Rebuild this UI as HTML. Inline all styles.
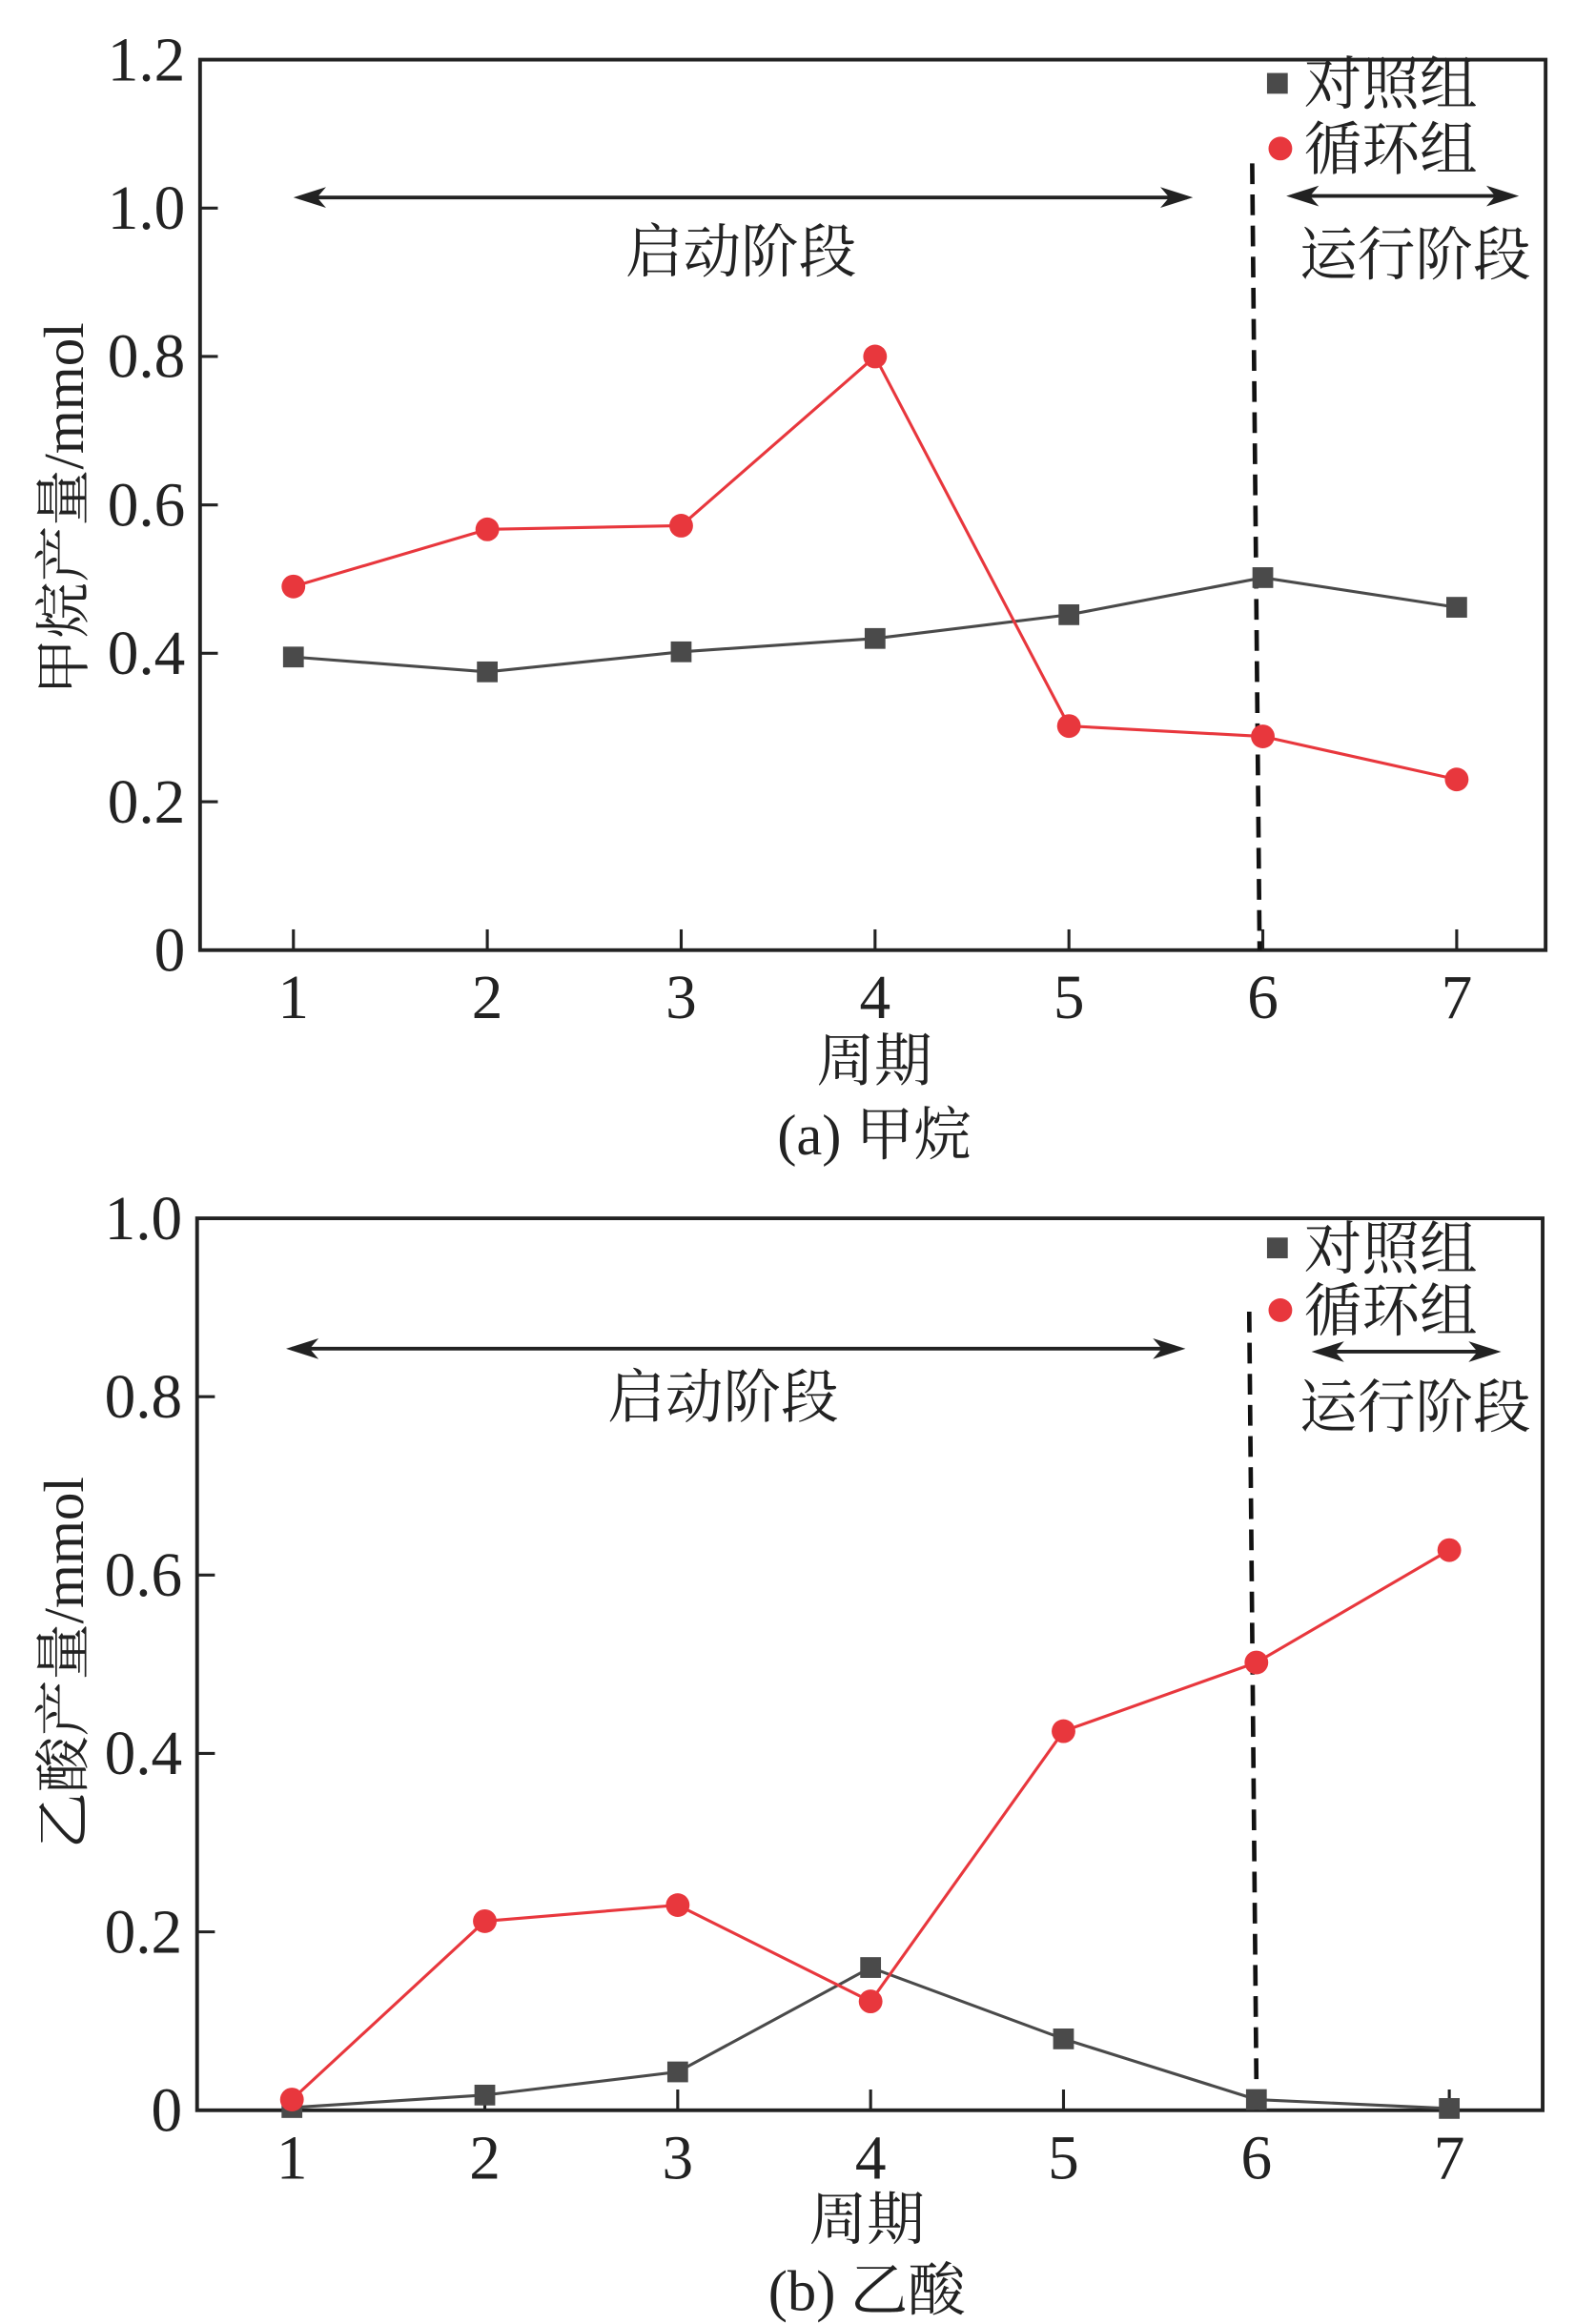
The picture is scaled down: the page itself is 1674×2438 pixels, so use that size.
<!DOCTYPE html>
<html><head><meta charset="utf-8"><style>
html,body{margin:0;padding:0;background:#fff}
svg{display:block}
text{font-family:"Liberation Serif","Noto Serif CJK SC","Noto Sans CJK SC",serif;fill:#222}
</style></head><body>
<svg id="svg" width="1674" height="2438" viewBox="0 0 1077 1568" xmlns="http://www.w3.org/2000/svg"></svg>
<script>
const categories = [1,2,3,4,5,6,7];
const methaneControl = [0.395,0.375,0.402,0.42,0.452,0.502,0.462];
const methaneCycle = [0.49,0.567,0.572,0.80,0.302,0.288,0.23];
const acidControl = [0.003,0.017,0.043,0.16,0.08,0.012,0.002];
const acidCycle = [0.012,0.212,0.23,0.122,0.425,0.502,0.628];
const methaneTicks = ["0","0.2","0.4","0.6","0.8","1.0","1.2"];
const acidTicks = ["0","0.2","0.4","0.6","0.8","1.0"];

const svg = document.getElementById('svg');
const NS = 'http://www.w3.org/2000/svg';
function mk(tag, attrs, parent){const e=document.createElementNS(NS,tag);for(const k in attrs)e.setAttribute(k,attrs[k]);(parent||svg).appendChild(e);return e;}
function txt(s,x,y,size,anchor,parent){const t=mk('text',{x:x,y:y,'font-size':size,'text-anchor':anchor||'middle'},parent);t.textContent=s;return t;}

function arrow(g,x1,x2,y){
  mk('line',{x1:x1+4,y1:y,x2:x2-4,y2:y,stroke:'#222','stroke-width':2.5},g);
  mk('path',{d:`M${x1} ${y} L${x1+22} ${y-7} L${x1+16} ${y} L${x1+22} ${y+7}Z`,fill:'#222'},g);
  mk('path',{d:`M${x2} ${y} L${x2-22} ${y-7} L${x2-16} ${y} L${x2-22} ${y+7}Z`,fill:'#222'},g);
}

function drawChart(o){
  const g = mk('g',{});
  
  
  const L=o.left,R=o.right,T=o.top,B=o.bottom;
  const ymax=o.ymax;
  const xs=v=>o.x1+(v-1)*(o.x7-o.x1)/6;
  const ys=v=>B-(v/ymax)*(B-T);
  const frame=mk('rect',{x:L,y:T,width:R-L,height:B-T,fill:'none',stroke:'#222','stroke-width':2.5},g);
  
  
  o.yticks.forEach(lab=>{
    const v=parseFloat(lab);const y=ys(v);
    if(v>0&&v<ymax) mk('line',{x1:L,y1:y,x2:L+12,y2:y,stroke:'#222','stroke-width':2},g);
    const t=txt(lab,L-10,y+14,42,'end',g);
    
    
  });
  categories.forEach(c=>{
    const x=xs(c);
    mk('line',{x1:x,y1:B,x2:x,y2:B-14,stroke:'#222','stroke-width':2},g);
    const t=txt(String(c),x,B+46,42,'middle',g);
    
    
  });
  const d=mk('line',{x1:o.dashX1,y1:o.dashTop,x2:o.dashX2,y2:B,stroke:'#111','stroke-width':3,'stroke-dasharray':'14 7'},g);
  
  
  function series(vals,color,shape,name){
    const sg=mk('g',{},g);
    
    
    mk('polyline',{points:vals.map((v,i)=>xs(categories[i])+','+ys(v)).join(' '),fill:'none',stroke:color,'stroke-width':2},sg);
    vals.forEach((v,i)=>{
      const x=xs(categories[i]),y=ys(v);let m;
      if(shape==='sq') m=mk('rect',{x:x-7,y:y-7,width:14,height:14,fill:color},sg);
      else m=mk('circle',{cx:x,cy:y,r:8,fill:color},sg);
      
      
    });
  }
  series(o.ctrl,'#4a4a4a','sq','control-series');
  series(o.cyc,'#e8373d','ci','cycle-series');
  const lg=mk('g',{},g);
  
  
  mk('rect',{x:o.legX-7,y:o.legY1-7,width:14,height:14,fill:'#4a4a4a'},lg);
  txt('对照组',o.legX+18,o.legY1+14,39,'start',lg);
  mk('circle',{cx:o.legX+2,cy:o.legY2,r:8,fill:'#e8373d'},lg);
  txt('循环组',o.legX+18,o.legY2+14,39,'start',lg);
  arrow(g,o.a1[0],o.a1[1],o.a1[2]);
  arrow(g,o.a2[0],o.a2[1],o.a2[2]);
  const s1=txt('启动阶段',o.s1[0],o.s1[1],39,'middle',g);
  
  
  const s2=txt('运行阶段',o.s2[0],o.s2[1],39,'middle',g);
  
  
  const yt=txt(o.ytitle,0,0,38,'middle',g);
  yt.setAttribute('transform',`translate(${o.ytx},${o.yty}) rotate(-90)`);
  
  
  const xt=txt('周期',o.xtx,o.xty,39,'middle',g);
  
  
  const cap=txt(o.caption,o.xtx,o.capy,39,'middle',g);
  
  
}

drawChart({name:'methane-chart',left:135,right:1043,top:40,bottom:641,x1:198,x7:983,ymax:1.2,
  yticks:methaneTicks,ctrl:methaneControl,cyc:methaneCycle,dashX1:845,dashX2:850,dashTop:110,
  legX:862,legY1:56,legY2:100,a1:[198,805,133],a2:[868,1025,132],s1:[500,183],s2:[955,185],
  ytitle:'甲烷产量/mmol',ytx:56,yty:343,xtx:590,xty:729,caption:'(a) 甲烷',capy:779});

drawChart({name:'acetic-acid-chart',left:133,right:1041,top:822,bottom:1424,x1:197,x7:978,ymax:1.0,
  yticks:acidTicks,ctrl:acidControl,cyc:acidCycle,dashX1:843,dashX2:848,dashTop:885,
  legX:862,legY1:842,legY2:884,a1:[193,800,910],a2:[885,1013,912],s1:[488,956],s2:[955,963],
  ytitle:'乙酸产量/mmol',ytx:56,yty:1122,xtx:585,xty:1511,caption:'(b) 乙酸',capy:1559});
</script>
</body></html>
